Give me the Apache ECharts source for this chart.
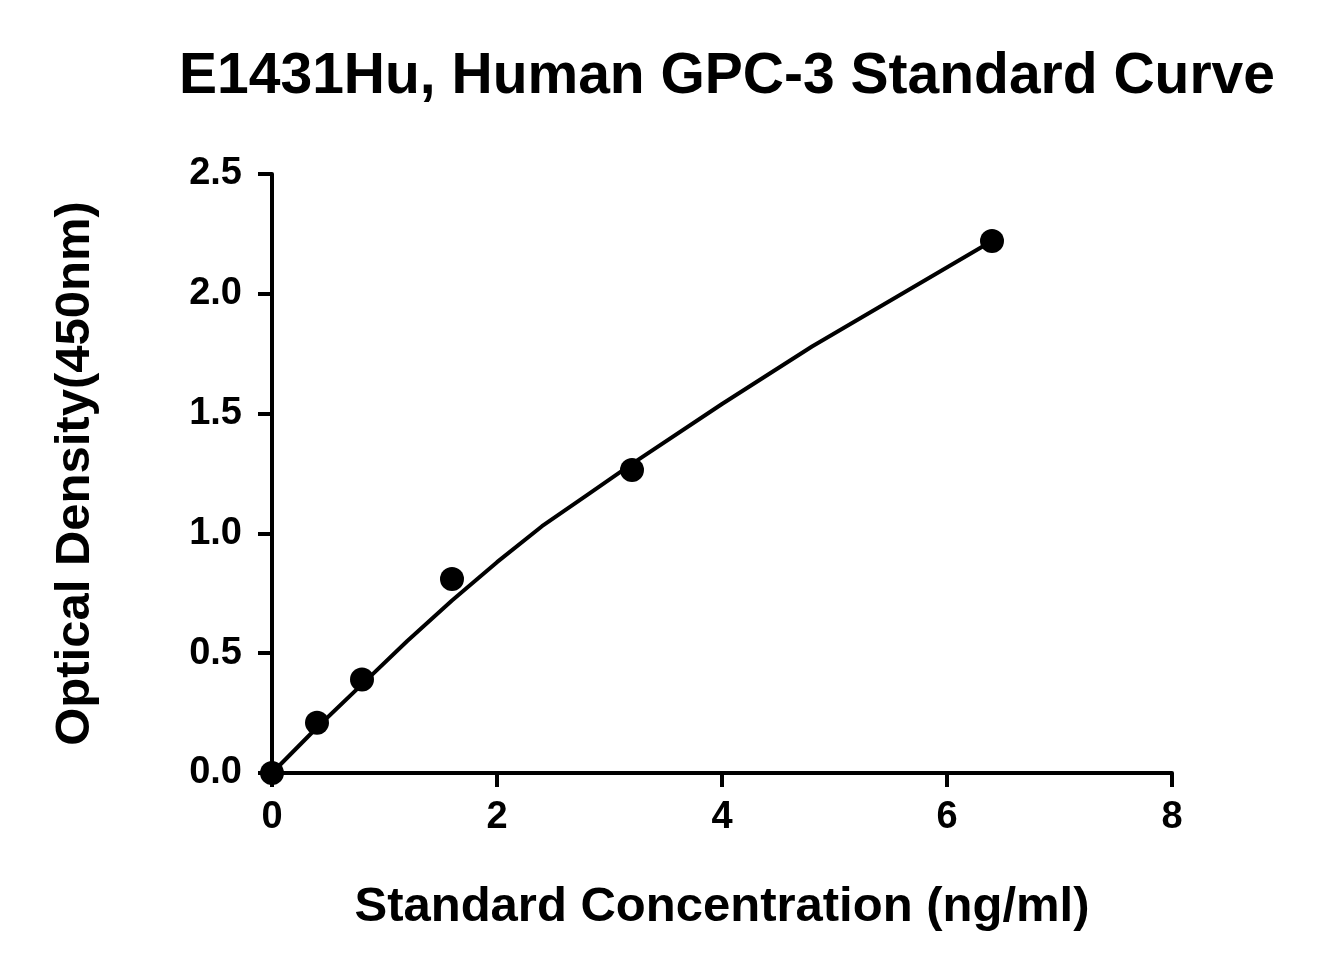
<!DOCTYPE html>
<html><head><meta charset="utf-8">
<script src="https://cdn.jsdelivr.net/npm/echarts@6/dist/echarts.min.js"></script>
<style>html,body{margin:0;padding:0;background:#fff}#c{width:1323px;height:975px}</style>
</head><body><div id="c"></div>
<script>
const pointX = [0, 0.4, 0.8, 1.6, 3.2, 6.4];
const pointY = [0, 0.21, 0.39, 0.81, 1.265, 2.22];
const curveX = [0, 0.4, 0.8, 1.2, 1.6, 2, 2.4, 2.8, 3.2, 4, 4.8, 5.6, 6.4];
const curveY = [0, 0.19, 0.37, 0.55, 0.72, 0.88, 1.03, 1.16, 1.29, 1.54, 1.78, 2.0, 2.22];
const xTicks = [0, 2, 4, 6, 8];
const yTicks = [0, 0.5, 1, 1.5, 2, 2.5];
const F = '"Liberation Sans", Arial, sans-serif';
const chart = echarts.init(document.getElementById('c'));
chart.setOption({
  animation:false,
  title:{text:'E1431Hu, Human GPC-3 Standard Curve',left:722,top:44,textAlign:'center',
    textStyle:{fontFamily:F,fontWeight:'bold',fontSize:57,color:'#000'}},
  grid:{left:272,right:151,top:174,bottom:202},
  xAxis:{type:'value',min:0,max:8,interval:2,name:'Standard Concentration (ng/ml)',nameLocation:'middle',nameGap:110,
    nameTextStyle:{fontFamily:F,fontWeight:'bold',fontSize:49,color:'#000'},
    axisLine:{lineStyle:{color:'#000',width:4}},axisTick:{length:14,lineStyle:{width:4,color:'#000'}},
    axisLabel:{fontFamily:F,fontWeight:'bold',fontSize:38,color:'#000',margin:26},splitLine:{show:false}},
  yAxis:{type:'value',min:0,max:2.5,interval:0.5,name:'Optical Density(450nm)',nameLocation:'middle',nameGap:172,
    nameTextStyle:{fontFamily:F,fontWeight:'bold',fontSize:49,color:'#000'},
    axisLine:{show:true,lineStyle:{color:'#000',width:4}},axisTick:{show:true,length:14,lineStyle:{width:4,color:'#000'}},
    axisLabel:{fontFamily:F,fontWeight:'bold',fontSize:38,color:'#000',margin:30,formatter:v=>v.toFixed(1)},splitLine:{show:false}},
  series:[
    {type:'line',data:curveX.map((x,i)=>[x,curveY[i]]),smooth:false,showSymbol:false,lineStyle:{color:'#000',width:4}},
    {type:'scatter',data:pointX.map((x,i)=>[x,pointY[i]]),symbolSize:24,itemStyle:{color:'#000',opacity:1}}
  ]
});
</script></body></html>
